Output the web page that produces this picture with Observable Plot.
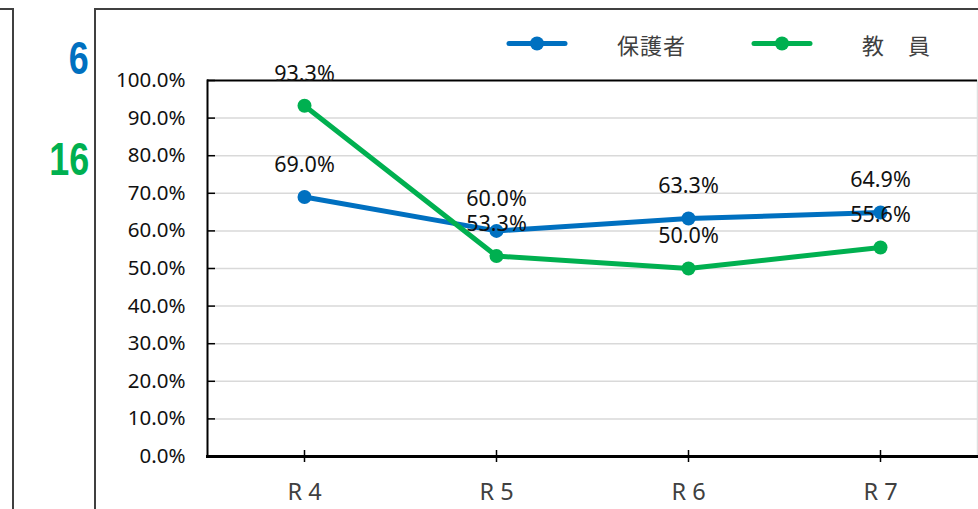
<!DOCTYPE html>
<html>
<head>
<meta charset="utf-8">
<script src="https://cdn.jsdelivr.net/npm/d3@7"></script>
<script src="https://cdn.jsdelivr.net/npm/@observablehq/plot@0.6"></script>
<style>
  body { margin: 0; background: #fff; }
  #wrap { position: relative; width: 978px; height: 509px; overflow: hidden; font-family: "Noto Sans", "Liberation Sans", sans-serif; }
  .ln { position: absolute; background: #404040; }
  .big { position: absolute; right: 889px; font-family: "Liberation Sans", sans-serif; font-weight: bold; font-size: 46px; line-height: 46px; transform: scaleX(0.78); transform-origin: right center; white-space: nowrap; }
  .legtext { position: absolute; top: 30px; font-family: "Noto Sans CJK JP", sans-serif; font-size: 22px; line-height: 28px; color: #404040; letter-spacing: 1px; white-space: nowrap; }
  #plot { position: absolute; left: 0; top: 0; }
  #legsw { position: absolute; left: 0; top: 0; }
</style>
</head>
<body>
<div id="wrap">
  <div id="plot"></div>
  <div class="ln" style="left:12px;top:8px;width:2px;height:501px;"></div>
  <div class="ln" style="left:0px;top:8px;width:14px;height:2px;"></div>
  <div class="ln" style="left:94px;top:8px;width:2px;height:501px;"></div>
  <div class="ln" style="left:94px;top:8px;width:884px;height:2px;"></div>
  <div class="big" id="n1" style="top:35px;color:#0070C0;"></div>
  <div class="big" id="n2" style="top:136px;color:#00B050;"></div>
  <svg id="legsw" width="978" height="80"></svg>
  <div class="legtext" id="lt1" style="left:617px;"></div>
  <div class="legtext" id="lt2" style="left:862px;"></div>
</div>
<script>
const years = ["R 4", "R 5", "R 6", "R 7"];
const parents = [69.0, 60.0, 63.3, 64.9];
const teachers = [93.3, 53.3, 50.0, 55.6];
const seriesNames = ["保護者", "教　員"];
const seriesColors = ["#0070C0", "#00B050"];
const yTicks = [0, 10, 20, 30, 40, 50, 60, 70, 80, 90, 100];
const sideCounts = ["6", "16"];

const data = [];
years.forEach((y, i) => data.push({year: y, series: seriesNames[0], value: parents[i]}));
years.forEach((y, i) => data.push({year: y, series: seriesNames[1], value: teachers[i]}));

const pct = d => d.toFixed(1) + "%";

const chart = Plot.plot({
  width: 978,
  height: 509,
  marginLeft: 207,
  marginRight: 1,
  marginTop: 80,
  marginBottom: 53,
  x: {type: "point", domain: years, padding: 0.5, label: null},
  y: {domain: [0, 100], label: null},
  color: {domain: seriesNames, range: seriesColors},
  style: {fontFamily: "'Noto Sans', 'Liberation Sans', sans-serif", background: "transparent", overflow: "visible"},
  marks: [
    Plot.gridY(yTicks.filter(t => t > 0 && t < 100), {stroke: "#d9d9d9", strokeOpacity: 1, strokeWidth: 1.5}),
    Plot.frame({anchor: "right", stroke: "#e0e0e0", strokeWidth: 1.5}),
    Plot.ruleY([100], {stroke: "#000", strokeWidth: 2}),
    Plot.line(data, {x: "year", y: "value", stroke: "series", strokeWidth: 5, z: "series"}),
    Plot.dot(data, {x: "year", y: "value", fill: "series", r: 7}),
    Plot.frame({anchor: "left", stroke: "#000", strokeWidth: 2}),
    Plot.frame({anchor: "bottom", stroke: "#000", strokeWidth: 3}),
    Plot.axisY({ticks: yTicks, label: null, tickSize: -8, tickPadding: 30, tickFormat: pct, fontSize: 20.5, fill: "#111", stroke: "#000", strokeWidth: 1.5}),
    Plot.axisX({label: null, tickSize: 6, tickPadding: 21, fontSize: 23.5, fill: "#404040", stroke: "#000", strokeWidth: 1.5}),
    Plot.axisX({label: null, tickSize: -6, tickPadding: 0, tickFormat: () => "", stroke: "#000", strokeWidth: 1.5}),
    Plot.text(data, {x: "year", y: "value", text: d => pct(d.value), dy: -32, fontSize: 21.5, fill: "#111"})
  ]
});
document.getElementById("plot").appendChild(chart);

document.getElementById("n1").textContent = sideCounts[0];
document.getElementById("n2").textContent = sideCounts[1];
document.getElementById("lt1").textContent = seriesNames[0];
document.getElementById("lt2").textContent = seriesNames[1];

// legend swatches
const sw = d3.select("#legsw");
const swX = [509, 754];
seriesNames.forEach((s, i) => {
  sw.append("line").attr("x1", swX[i]).attr("x2", swX[i] + 56).attr("y1", 43.5).attr("y2", 43.5)
    .attr("stroke", seriesColors[i]).attr("stroke-width", 5).attr("stroke-linecap", "round");
  sw.append("circle").attr("cx", swX[i] + 28).attr("cy", 43.5).attr("r", 7).attr("fill", seriesColors[i]);
});
</script>
</body>
</html>
